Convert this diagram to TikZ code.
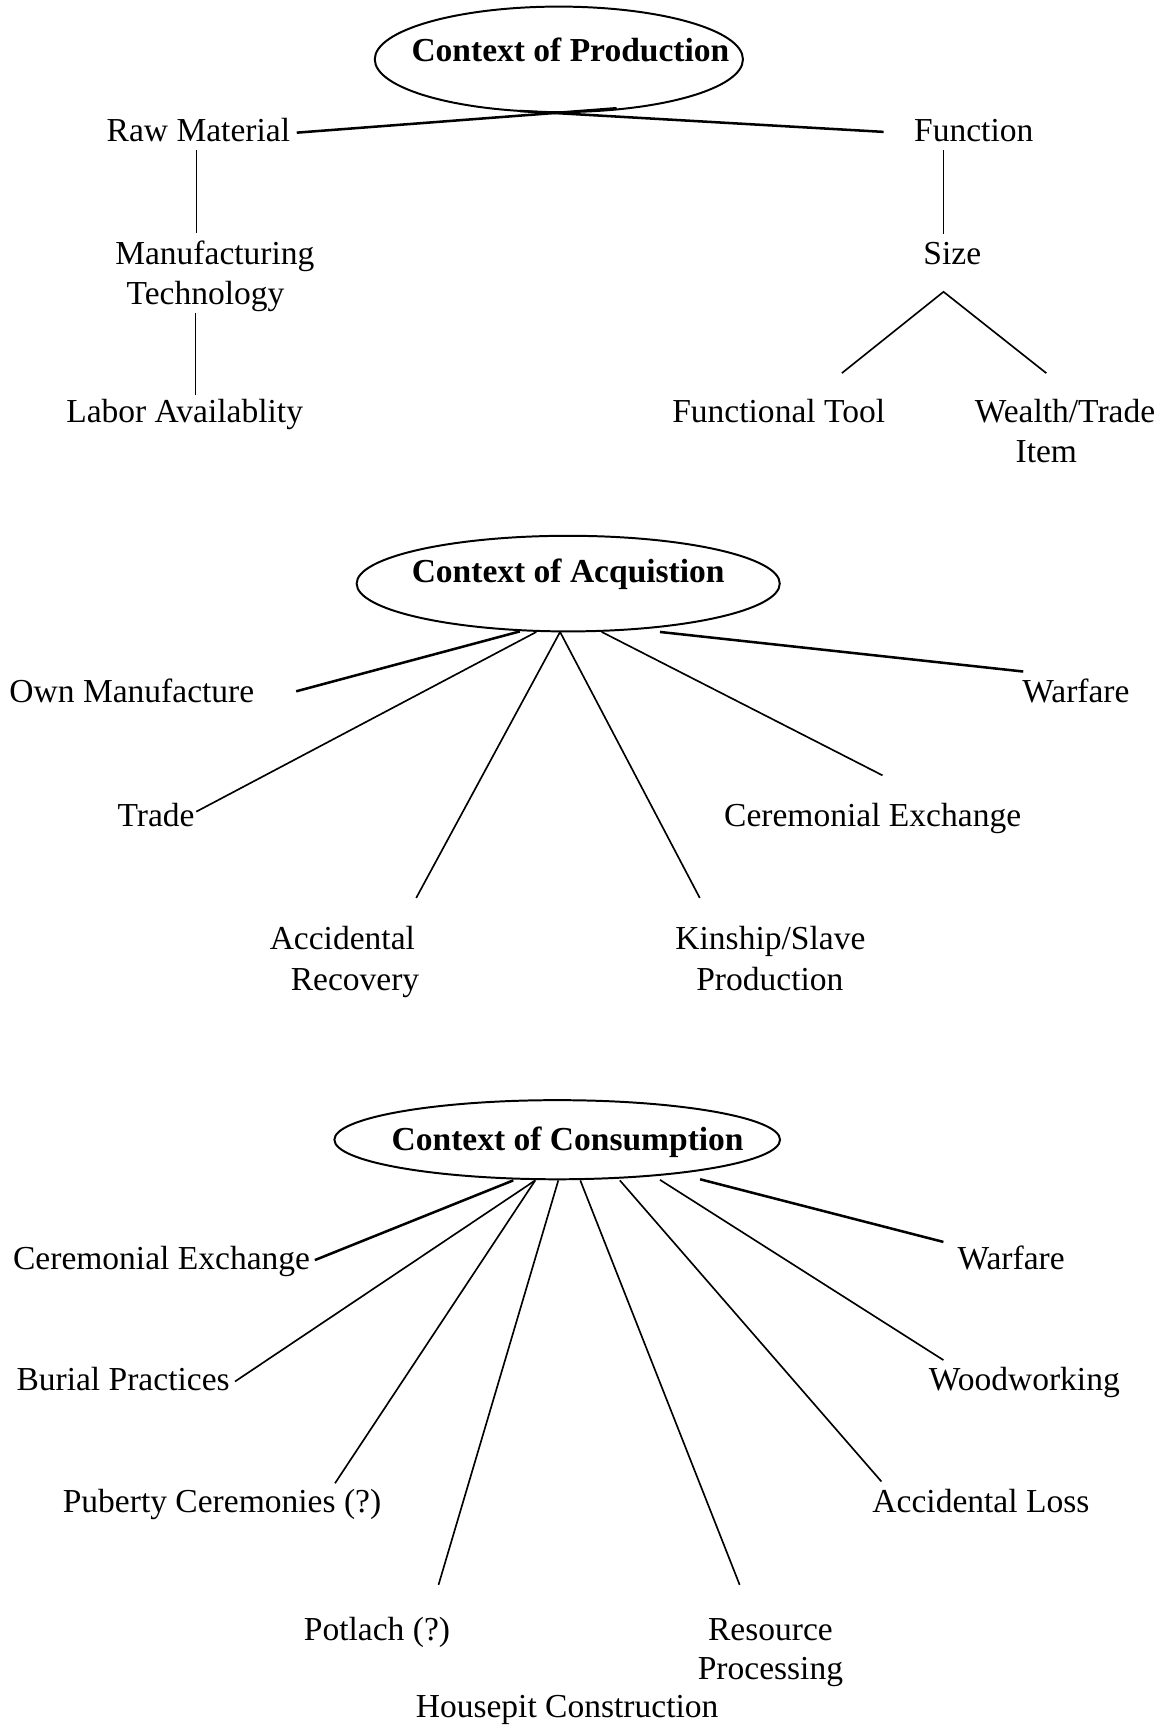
\documentclass[tikz,border=0pt]{standalone}
\usepackage{fontspec}
\setmainfont{Liberation Serif}
\usetikzlibrary{shapes.geometric}
\begin{document}
\begin{tikzpicture}[x=1pt,y=-1pt,
  lbl/.style={inner sep=0pt, text height=20pt, text depth=0pt, font=\fontsize{30.5}{36}\selectfont},
  hd/.style={lbl, font=\fontsize{30.5}{36}\selectfont\bfseries},
  oval/.style={draw, ellipse, line width=1.8pt, inner sep=0pt},
  ln/.style={line width=1.5pt},
  thk/.style={line width=2.3pt},
  thn/.style={line width=1.2pt}]
\useasboundingbox (0,0) rectangle (1060,1575);

% ---------------- Context of Production ----------------
\node[oval, minimum width=335pt, minimum height=96pt] (prodE) at (508.5,54) {};
\node[hd] (prodT) at (519,45.5) {Context of Production};
\node[lbl] (raw) at (180.5,118.5) {Raw Material};
\node[lbl] (fun) at (886,119) {Function};
\node[lbl] (manu) at (195.5,230.5) {Manufacturing};
\node[lbl] (tech) at (187,267) {Technology};
\node[lbl] (labor) at (168,374.5) {Labor Availablity};
\node[lbl] (size) at (866.5,231) {Size};
\node[lbl] (ftool) at (708.5,374.5) {Functional Tool};
\node[lbl] (wealth) at (969,374.5) {Wealth/Trade};
\node[lbl] (item) at (952,411) {Item};

\coordinate (p1a) at (270,120.7);  \coordinate (p1b) at (561,98.5);
\coordinate (p2a) at (473,101);    \coordinate (p2b) at (804,120);
\coordinate (p3a) at (179,136.5);  \coordinate (p3b) at (179,212);
\coordinate (p4a) at (178,285);    \coordinate (p4b) at (178,359.6);
\coordinate (p5a) at (858.5,136.5);  \coordinate (p5b) at (858.5,213);
\coordinate (p6l) at (766,339.5); \coordinate (p6t) at (858.5,265.5); \coordinate (p6r) at (952,339.5);

\draw[thk] (p1a) -- (p1b);
\draw[thk] (p2a) -- (p2b);
\draw[thn] (p3a) -- (p3b);
\draw[thn] (p4a) -- (p4b);
\draw[thn] (p5a) -- (p5b);
\draw[ln] (p6l) -- (p6t) -- (p6r);

% ---------------- Context of Acquistion ----------------
\node[oval, minimum width=385pt, minimum height=87pt] (acqE) at (517,531) {};
\node[hd] (acqT) at (517,520) {Context of Acquistion};
\node[lbl] (own) at (120,629) {Own Manufacture};
\node[lbl] (warA) at (979,629) {Warfare};
\node[lbl] (trade) at (142,742) {Trade};
\node[lbl] (cerA) at (794,742) {Ceremonial Exchange};
\node[lbl] (acc) at (311.5,854) {Accidental};
\node[lbl] (rec) at (323,891.5) {Recovery};
\node[lbl] (kin) at (701,854) {Kinship/Slave};
\node[lbl] (prodn) at (700.5,891.5) {Production};

\coordinate (a1s) at (473,574.5);   \coordinate (a1e) at (269.5,629);
\coordinate (a2s) at (488,575);     \coordinate (a2e) at (178.6,738.5);
\coordinate (a3s) at (509.6,575);   \coordinate (a3e) at (378.7,817);
\coordinate (a4s) at (509.6,575);   \coordinate (a4e) at (636.7,817);
\coordinate (a5s) at (547.5,575);   \coordinate (a5e) at (803,705.5);
\coordinate (a6s) at (600.5,575);   \coordinate (a6e) at (931,611);

\draw[thk] (a1s) -- (a1e);
\draw[ln] (a2s) -- (a2e);
\draw[ln] (a3s) -- (a3e);
\draw[ln] (a4s) -- (a4e);
\draw[ln] (a5s) -- (a5e);
\draw[thk] (a6s) -- (a6e);

% ---------------- Context of Consumption ----------------
\node[oval, minimum width=405.5pt, minimum height=72pt] (conE) at (507,1037) {};
\node[hd] (conT) at (516.5,1036.5) {Context of Consumption};
\node[lbl] (cerC) at (147,1145.5) {Ceremonial Exchange};
\node[lbl] (burial) at (112,1255) {Burial Practices};
\node[lbl] (puberty) at (202,1366) {Puberty Ceremonies (?)};
\node[lbl] (potlach) at (343,1483) {Potlach (?)};
\node[lbl] (resource) at (701,1483) {Resource};
\node[lbl] (processing) at (701,1518) {Processing};
\node[lbl] (accloss) at (892.5,1366) {Accidental Loss};
\node[lbl] (wood) at (932,1255) {Woodworking};
\node[lbl] (warC) at (920,1145.5) {Warfare};
\node[lbl] (housepit) at (516,1553) {Housepit Construction};

\coordinate (c1s) at (467,1074);   \coordinate (c1e) at (286.5,1146.5);
\coordinate (c2s) at (487,1074);   \coordinate (c2e) at (213.8,1257);
\coordinate (c3s) at (487,1074);   \coordinate (c3e) at (304.8,1349.6);
\coordinate (c4s) at (508,1074);   \coordinate (c4e) at (399,1442);
\coordinate (c5s) at (528,1074);   \coordinate (c5e) at (673,1442);
\coordinate (c6s) at (564,1074);   \coordinate (c6e) at (802,1348);
\coordinate (c7s) at (600.5,1073.5); \coordinate (c7e) at (858.4,1237.5);
\coordinate (c8s) at (637,1073);   \coordinate (c8e) at (858.4,1130);

\draw[thk] (c1s) -- (c1e);
\draw[ln] (c2s) -- (c2e);
\draw[ln] (c3s) -- (c3e);
\draw[ln] (c4s) -- (c4e);
\draw[ln] (c5s) -- (c5e);
\draw[ln] (c6s) -- (c6e);
\draw[ln] (c7s) -- (c7e);
\draw[thk] (c8s) -- (c8e);
\end{tikzpicture}
\end{document}
